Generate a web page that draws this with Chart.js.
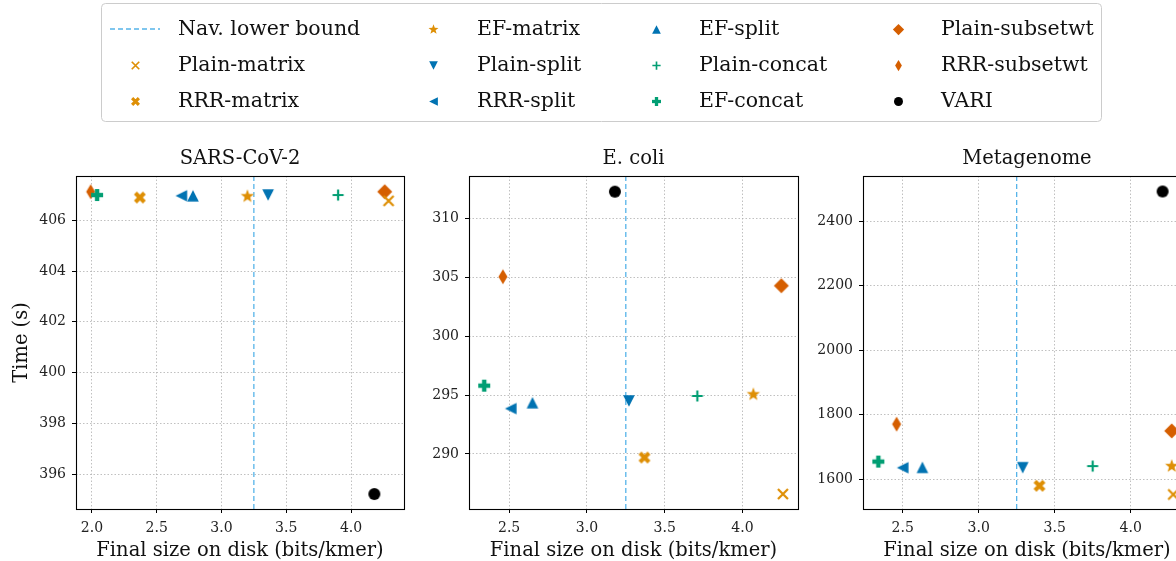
<!DOCTYPE html>
<html>
<head>
<meta charset="utf-8">
<script src="https://cdn.jsdelivr.net/npm/chart.js@4/dist/chart.umd.min.js"></script>
<style>
  html, body { margin: 0; padding: 0; width: 1176px; height: 561px; overflow: hidden; background: #fff; }
  canvas { position: absolute; }
</style>
</head>
<body>
<canvas id="legend" width="1176" height="130" style="left:0px;top:0px"></canvas>
<canvas id="sars" width="420" height="421" style="left:0px;top:140px"></canvas>
<canvas id="ecoli" width="400" height="421" style="left:420px;top:140px"></canvas>
<canvas id="meta" width="420" height="421" style="left:800px;top:140px"></canvas>
<script>
// methods, in legend order after the lower bound line
var methods = ['Plain-matrix', 'RRR-matrix', 'EF-matrix', 'Plain-split', 'RRR-split', 'EF-split',
               'Plain-concat', 'EF-concat', 'Plain-subsetwt', 'RRR-subsetwt', 'VARI'];
var markers = ['x', 'X', '*', 'v', '<', '^', '+', 'P', 'D', 'd', 'o'];
var colors  = ['#de8f05', '#de8f05', '#de8f05', '#0173b2', '#0173b2', '#0173b2',
               '#029e73', '#029e73', '#d55e00', '#d55e00', '#000000'];

var navLowerBound = 3.25;   // bits/kmer

// SARS-CoV-2
var sarsSize = [4.29, 2.37, 3.20, 3.36, 2.69, 2.78, 3.90, 2.04, 4.26, 1.99, 4.18];
var sarsTime = [406.77, 406.90, 406.95, 407.00, 406.97, 406.97, 407.00, 407.00, 407.13, 407.13, 395.21];
// E. coli
var ecoliSize = [4.26, 3.37, 4.07, 3.27, 2.51, 2.65, 3.71, 2.34, 4.25, 2.46, 3.18];
var ecoliTime = [286.6, 289.7, 295.06, 294.5, 293.85, 294.35, 294.92, 295.8, 304.28, 305.04, 312.26];
// Metagenome
var metaSize = [4.28, 3.40, 4.27, 3.29, 2.50, 2.63, 3.75, 2.34, 4.27, 2.46, 4.21];
var metaTime = [1553, 1580, 1641, 1636, 1636, 1637, 1641, 1655, 1750, 1771, 2492];

var sizeTicks = [2.0, 2.5, 3.0, 3.5, 4.0];
var sarsTimeTicks = [396, 398, 400, 402, 404, 406];
var ecoliTimeTicks = [290, 295, 300, 305, 310];
var metaTimeTicks = [1600, 1800, 2000, 2200, 2400];

var FONT = '"DejaVu Serif"';
var NAV_COLOR = '#56b4e9';

// draw a matplotlib-like marker into a small canvas, s = scale
function makeMarker(kind, color, s) {
    var size = Math.ceil(20 * s);
    var c = document.createElement('canvas');
    c.width = size; c.height = size;
    var g = c.getContext('2d');
    g.translate(size / 2, size / 2);
    g.scale(s, s);
    g.fillStyle = color;
    g.strokeStyle = color;
    g.beginPath();
    if (kind == 'x') {
        g.lineWidth = 2.2;
        g.moveTo(-5, -5); g.lineTo(5, 5); g.moveTo(-5, 5); g.lineTo(5, -5);
        g.stroke();
    } else if (kind == 'X') {
        g.lineWidth = 4.2;
        g.moveTo(-4.5, -4.5); g.lineTo(4.5, 4.5); g.moveTo(-4.5, 4.5); g.lineTo(4.5, -4.5);
        g.stroke();
    } else if (kind == '*') {
        for (var i = 0; i < 10; i++) {
            var r = i % 2 == 0 ? 7 : 2.9;
            var a = -Math.PI / 2 + i * Math.PI / 5;
            g.lineTo(r * Math.cos(a), r * Math.sin(a));
        }
        g.closePath(); g.fill();
    } else if (kind == '^') {
        g.moveTo(0, -5.8); g.lineTo(5.8, 5.8); g.lineTo(-5.8, 5.8); g.closePath(); g.fill();
    } else if (kind == 'v') {
        g.moveTo(0, 5.8); g.lineTo(5.8, -5.8); g.lineTo(-5.8, -5.8); g.closePath(); g.fill();
    } else if (kind == '<') {
        g.moveTo(-5.8, 0); g.lineTo(5.8, -5.8); g.lineTo(5.8, 5.8); g.closePath(); g.fill();
    } else if (kind == '+') {
        g.lineWidth = 2.2;
        g.moveTo(-5.5, 0); g.lineTo(5.5, 0); g.moveTo(0, -5.5); g.lineTo(0, 5.5);
        g.stroke();
    } else if (kind == 'P') {
        g.fillRect(-6, -2.2, 12, 4.4); g.fillRect(-2.2, -6, 4.4, 12);
    } else if (kind == 'D') {
        g.moveTo(0, -7.5); g.lineTo(7.5, 0); g.lineTo(0, 7.5); g.lineTo(-7.5, 0); g.closePath(); g.fill();
    } else if (kind == 'd') {
        g.moveTo(0, -7.5); g.lineTo(4.5, 0); g.lineTo(0, 7.5); g.lineTo(-4.5, 0); g.closePath(); g.fill();
    } else if (kind == 'o') {
        g.arc(0, 0, 6, 0, Math.PI * 2); g.fill();
    }
    return c;
}

// black frame round the plot area, like matplotlib spines
var framePlugin = {
    id: 'frame',
    afterDraw: function(chart) {
        var a = chart.chartArea, ctx = chart.ctx;
        ctx.save();
        ctx.strokeStyle = '#000';
        ctx.lineWidth = 1.1;
        ctx.strokeRect(Math.round(a.left) + 0.5, Math.round(a.top) + 0.5,
                       Math.round(a.right - a.left), Math.round(a.bottom - a.top));
        ctx.restore();
    }
};

function makeChart(id, title, sizes, times, xMin, xMax, yMin, yMax, yTicks, yWidth, rightPad, showYTitle) {
    var datasets = [{
        type: 'line',
        label: 'Nav. lower bound',
        data: [{x: navLowerBound, y: yMin}, {x: navLowerBound, y: yMax}],
        borderColor: NAV_COLOR,
        borderWidth: 1.3,
        borderDash: [5, 3],
        pointRadius: 0,
        fill: false,
        order: 10
    }];
    for (var i = 0; i < methods.length; i++) {
        datasets.push({
            label: methods[i],
            data: [{x: sizes[i], y: times[i]}],
            pointStyle: makeMarker(markers[i], colors[i], 1),
            pointRadius: 7,
            clip: false,
            order: 0
        });
    }
    var gridOpts = {color: '#b0b0b0', lineWidth: 0.8, tickColor: '#000', tickLength: 4, tickWidth: 1};
    return new Chart(document.getElementById(id).getContext('2d'), {
        type: 'scatter',
        data: {datasets: datasets},
        plugins: [framePlugin],
        options: {
            responsive: false,
            animation: false,
            devicePixelRatio: 1,
            layout: {padding: {left: 0, right: rightPad, top: 0, bottom: 0}},
            plugins: {
                legend: {display: false},
                tooltip: {enabled: false},
                title: {
                    display: true, text: title, fullSize: false, color: '#111',
                    font: {family: FONT, size: 19.5, weight: 'normal'},
                    padding: {top: 7, bottom: 5.6}
                }
            },
            scales: {
                x: {
                    type: 'linear', min: xMin, max: xMax,
                    afterBuildTicks: function(s) {
                        s.ticks = sizeTicks.filter(function(v) { return v >= xMin && v <= xMax; })
                                           .map(function(v) { return {value: v}; });
                    },
                    afterFit: function(s) { s.height = 52; },
                    grid: gridOpts,
                    border: {display: false, dash: [1.5, 2]},
                    ticks: {
                        color: '#222', padding: 7, maxRotation: 0,
                        font: {family: FONT, size: 14},
                        callback: function(v) { return v.toFixed(1); }
                    },
                    title: {
                        display: true, text: 'Final size on disk (bits/kmer)', color: '#111',
                        font: {family: FONT, size: 19.5, lineHeight: 1}, padding: {top: 0, bottom: 0}
                    }
                },
                y: {
                    type: 'linear', min: yMin, max: yMax,
                    afterBuildTicks: function(s) {
                        s.ticks = yTicks.map(function(v) { return {value: v}; });
                    },
                    afterFit: function(s) { s.width = yWidth; },
                    grid: gridOpts,
                    border: {display: false, dash: [1.5, 2]},
                    ticks: {
                        color: '#222', padding: 6,
                        font: {family: FONT, size: 14},
                        callback: function(v) { return v; }
                    },
                    title: {
                        display: showYTitle, text: 'Time (s)', color: '#111',
                        font: {family: FONT, size: 19.5, lineHeight: 1.2}, padding: {top: 10, bottom: 0}
                    }
                }
            }
        }
    });
}

makeChart('sars', 'SARS-CoV-2', sarsSize, sarsTime, 1.877, 4.409, 394.62, 407.75, sarsTimeTicks, 76, 16, true);
makeChart('ecoli', 'E. coli', ecoliSize, ecoliTime, 2.242, 4.357, 285.33, 313.59, ecoliTimeTicks, 49, 22, false);
makeChart('meta', 'Metagenome', metaSize, metaTime, 2.239, 4.397, 1508, 2540, metaTimeTicks, 63, 29, false);

// shared legend, filled column by column: lower bound line first, then the methods
(function drawLegend() {
    var ctx = document.getElementById('legend').getContext('2d');
    // rounded box
    var bx = 101.5, by = 3.5, bw = 1000, bh = 118, r = 4;
    ctx.strokeStyle = '#cccccc';
    ctx.lineWidth = 1;
    ctx.beginPath();
    ctx.moveTo(bx + r, by); ctx.lineTo(bx + bw - r, by); ctx.quadraticCurveTo(bx + bw, by, bx + bw, by + r);
    ctx.lineTo(bx + bw, by + bh - r); ctx.quadraticCurveTo(bx + bw, by + bh, bx + bw - r, by + bh);
    ctx.lineTo(bx + r, by + bh); ctx.quadraticCurveTo(bx, by + bh, bx, by + bh - r);
    ctx.lineTo(bx, by + r); ctx.quadraticCurveTo(bx, by, bx + r, by);
    ctx.stroke();

    var colMarkX = [135, 433, 656, 898];
    var colTextX = [178, 477, 699, 941];
    var rowY = [29, 65, 101];
    var entries = ['Nav. lower bound'].concat(methods);
    ctx.font = '20.5px ' + FONT;
    ctx.fillStyle = '#111';
    ctx.textBaseline = 'middle';
    for (var k = 0; k < entries.length; k++) {
        var col = Math.floor(k / 3), row = k % 3;
        var cy = rowY[row];
        if (k == 0) {
            ctx.save();
            ctx.strokeStyle = NAV_COLOR; ctx.lineWidth = 1.3; ctx.setLineDash([5, 3]);
            ctx.beginPath(); ctx.moveTo(colMarkX[col] - 25, cy); ctx.lineTo(colMarkX[col] + 25, cy); ctx.stroke();
            ctx.restore();
        } else {
            var mk = makeMarker(markers[k - 1], colors[k - 1], 0.75);
            ctx.drawImage(mk, Math.round(colMarkX[col] - mk.width / 2), Math.round(cy - mk.height / 2));
        }
        ctx.fillText(entries[k], colTextX[col], cy + 1);
    }
})();
</script>
</body>
</html>
